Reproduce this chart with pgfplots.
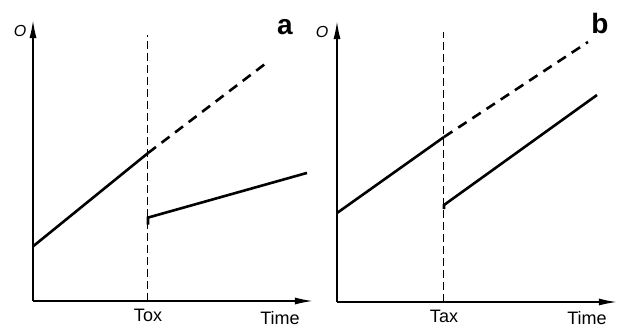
\documentclass[border=0pt]{standalone}
\usepackage{pgfplots}
\pgfplotsset{compat=1.18}
\usetikzlibrary{arrows.meta}
\usepackage{fontspec}
\setmainfont{Liberation Sans}
\begin{document}
\begin{tikzpicture}
\useasboundingbox (0,0) rectangle (311.5pt,164pt);
\pgfplotsset{panel/.style={
  anchor=south west, scale only axis, axis lines=left, clip=false,
  axis line style={line width=0.8pt, -{Latex[length=9pt,width=3.5pt]}},
  ytick=\empty, major tick length=0pt,
  xticklabel style={font=\fontsize{9}{9}\selectfont, yshift=-0.5pt},
  /pgf/number format/assume math mode=true,
}}
% Panel a
\begin{axis}[panel, at={(16.5pt,13.5pt)}, width=140pt, height=140.5pt,
  xmin=0, xmax=280, ymin=0, ymax=283, xtick={115}, xticklabels={Tox}]
\addplot[black, line width=0.5pt, dash pattern=on 4pt off 2pt] coordinates {(115,0) (115,268)};
\addplot[black, line width=1.3pt] coordinates {(0,55) (115,149)};
\addplot[black, line width=1.3pt, dash pattern=on 5pt off 3.5pt] coordinates {(115,149) (235,241)};
\addplot[black, line width=1.3pt] coordinates {(115,77) (115,84) (274,129)};
\node[font=\fontsize{9}{9}\selectfont] at (axis cs:247,-17) {Time};
\node[font=\bfseries\fontsize{14}{14}\selectfont] at (axis cs:252,276) {a};
\node[font=\itshape\fontsize{8}{8}\selectfont] at (axis cs:-13,272) {O};
\end{axis}
% Panel b
\begin{axis}[panel, at={(168.5pt,13pt)}, width=140pt, height=140.5pt,
  xmin=0, xmax=280, ymin=0, ymax=281, xtick={107}, xticklabels={Tax}]
\addplot[black, line width=0.5pt, dash pattern=on 4pt off 2pt] coordinates {(107,0) (107,270)};
\addplot[black, line width=1.3pt] coordinates {(0,89) (107,165)};
\addplot[black, line width=1.3pt, dash pattern=on 5pt off 3.5pt] coordinates {(107,165) (251,260)};
\addplot[black, line width=1.3pt] coordinates {(107,93) (107,97) (260,207)};
\node[font=\fontsize{9}{9}\selectfont] at (axis cs:250,-16) {Time};
\node[font=\bfseries\fontsize{14}{14}\selectfont] at (axis cs:263,279) {b};
\node[font=\itshape\fontsize{8}{8}\selectfont] at (axis cs:-15,270) {O};
\end{axis}
\end{tikzpicture}
\end{document}
